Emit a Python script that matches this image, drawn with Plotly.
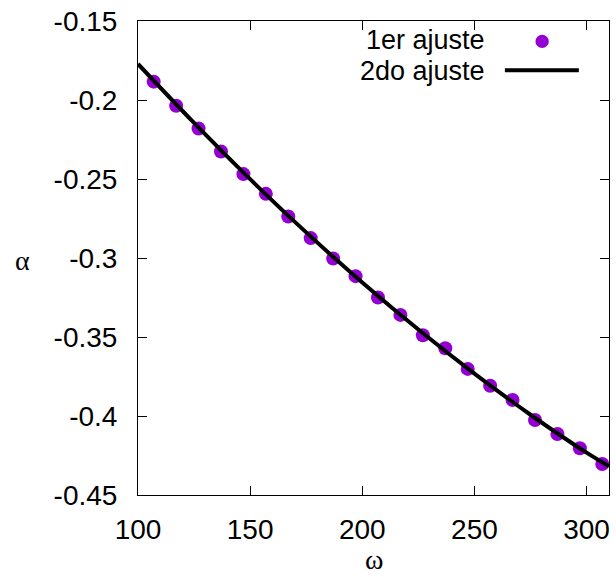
import plotly.graph_objects as go

# first fit: sampled points
omega_pts = [107, 117, 127, 137, 147, 157, 167, 177, 187, 197, 207,
             217, 227, 237, 247, 257, 267, 277, 287, 297, 307]
alpha_pts = [-0.1884, -0.2036, -0.2180, -0.2326, -0.2469, -0.2594, -0.2737,
             -0.2874, -0.3003, -0.3115, -0.3250, -0.3360, -0.3489, -0.3571,
             -0.3702, -0.3809, -0.3898, -0.4025, -0.4114, -0.4204, -0.4304]

# second fit: smooth curve
omega_fit = [100, 125, 150, 175, 200, 225, 250, 275, 300, 310]
alpha_fit = [-0.1772, -0.2145, -0.2501, -0.2838, -0.3155, -0.3453,
             -0.3732, -0.3992, -0.4232, -0.4318]

x_ticks = [100, 150, 200, 250, 300]
y_ticks = [-0.45, -0.4, -0.35, -0.3, -0.25, -0.2, -0.15]
y_tick_text = ["-0.45", "-0.4", "-0.35", "-0.3", "-0.25", "-0.2", "-0.15"]

legend_labels = ["1er ajuste", "2do ajuste"]

PURPLE = "#9400D3"
FONT = "Liberation Sans, Arial, sans-serif"
SERIF = "Liberation Serif, Times New Roman, serif"
FSIZE = 28

fig = go.Figure()
fig.add_trace(go.Scatter(
    x=omega_pts, y=alpha_pts, mode="markers", name=legend_labels[0],
    marker=dict(color=PURPLE, size=14, line=dict(width=0)),
    showlegend=False, cliponaxis=False,
))
fig.add_trace(go.Scatter(
    x=omega_fit, y=alpha_fit, mode="lines", name=legend_labels[1],
    line=dict(color="black", width=4, shape="spline"),
    showlegend=False,
))

axis_common = dict(
    showgrid=False, zeroline=False, showline=True, mirror="allticks",
    linecolor="black", linewidth=1, ticks="inside", ticklen=9,
    tickwidth=1, tickcolor="black",
    tickfont=dict(family=FONT, size=FSIZE, color="black"),
)

fig.update_xaxes(range=[100, 310], tickvals=x_ticks, ticklabelstandoff=9,
                 **axis_common)
fig.update_yaxes(range=[-0.45, -0.15], tickvals=y_ticks, ticktext=y_tick_text,
                 ticklabelstandoff=14, **axis_common)

# legend drawn by hand: labels right-aligned, keys on the right
row_y = [0.9589, 0.8941]
for label, yy in zip(legend_labels, row_y):
    fig.add_annotation(x=0.741, y=yy, xref="paper", yref="paper",
                       text=label, showarrow=False, xanchor="right",
                       yanchor="middle",
                       font=dict(family=FONT, size=27, color="black"))
fig.add_shape(type="circle", xref="paper", yref="paper",
              x0=0.858 - 0.0142, x1=0.858 + 0.0142,
              y0=0.957 - 0.0141, y1=0.957 + 0.0141,
              fillcolor=PURPLE, line=dict(width=0))
fig.add_shape(type="line", xref="paper", yref="paper",
              x0=0.779, x1=0.936, y0=0.896, y1=0.896,
              line=dict(color="black", width=4))

# axis titles
fig.add_annotation(x=0.501, y=-0.173, xref="paper", yref="paper", text="ω",
                   showarrow=False, xanchor="center", yanchor="bottom",
                   font=dict(family=SERIF, size=28, color="black"))
fig.add_annotation(x=-0.246, y=0.494, xref="paper", yref="paper", text="α",
                   showarrow=False, xanchor="center", yanchor="middle",
                   font=dict(family=SERIF, size=28, color="black"))

fig.update_layout(
    width=616, height=577,
    margin=dict(l=138, r=7, t=21, b=82),
    paper_bgcolor="white", plot_bgcolor="white",
    showlegend=False,
)

fig.write_html("out.html")
